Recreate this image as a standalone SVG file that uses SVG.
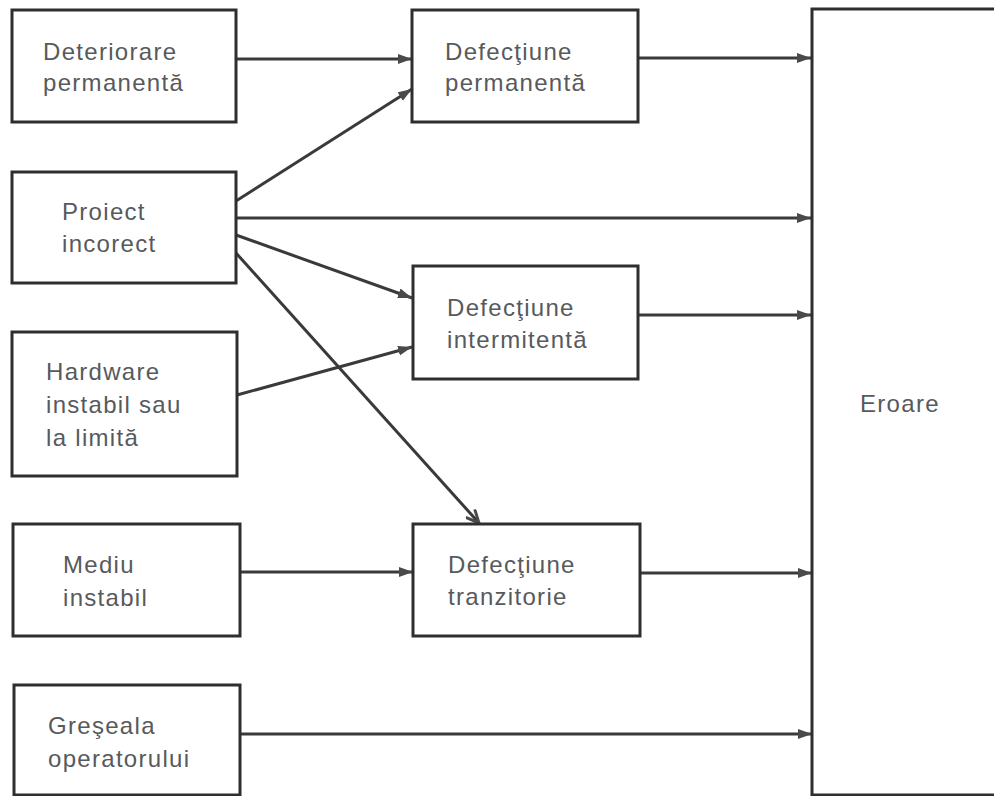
<svg xmlns="http://www.w3.org/2000/svg" width="994" height="796" viewBox="0 0 994 796">
<style>
.box{fill:#fff;stroke:#2e2e2e;stroke-width:3}
.lbl{font-family:"Liberation Sans",Arial,sans-serif;font-size:24px;letter-spacing:1.3px;fill:#575a5c}
.c{fill:none;stroke:#3a3a3a;stroke-width:3}
</style>
<defs>
<marker id="ah" markerUnits="userSpaceOnUse" markerWidth="15" markerHeight="11" refX="14" refY="5.5" orient="auto">
<path d="M0,0.5 L14,5.5 L0,10.5 Z" fill="#4a4a4a"/>
</marker>
<marker id="av" markerUnits="userSpaceOnUse" markerWidth="16" markerHeight="14" refX="14" refY="7" orient="auto">
<path d="M1,1 L14,7 L1,13" fill="none" stroke="#4a4a4a" stroke-width="3"/>
</marker>
</defs>
<rect width="994" height="796" fill="#fff"/>
<g id="connectors">
<line class="c" x1="236" y1="59" x2="412" y2="59" marker-end="url(#ah)"/>
<line class="c" x1="236" y1="201" x2="412" y2="89" marker-end="url(#ah)"/>
<line class="c" x1="236" y1="218" x2="811" y2="218" marker-end="url(#ah)"/>
<line class="c" x1="236" y1="235" x2="412" y2="298" marker-end="url(#ah)"/>
<line class="c" x1="236" y1="253" x2="479" y2="523" marker-end="url(#av)"/>
<line class="c" x1="237" y1="395" x2="412" y2="347" marker-end="url(#ah)"/>
<line class="c" x1="638" y1="58" x2="811" y2="58" marker-end="url(#ah)"/>
<line class="c" x1="638" y1="315" x2="811" y2="315" marker-end="url(#ah)"/>
<line class="c" x1="240" y1="572" x2="413" y2="572" marker-end="url(#ah)"/>
<line class="c" x1="640" y1="573" x2="812" y2="573" marker-end="url(#ah)"/>
<line class="c" x1="240" y1="734" x2="812" y2="734" marker-end="url(#ah)"/>
</g>
<g id="n-deteriorare">
<rect class="box" x="12" y="10" width="224" height="112"/>
<text class="lbl" x="43" y="60">Deteriorare</text>
<text class="lbl" x="43" y="91">permanentă</text>
</g>
<g id="n-proiect">
<rect class="box" x="12" y="172" width="224" height="111"/>
<text class="lbl" x="62" y="220">Proiect</text>
<text class="lbl" x="62" y="252">incorect</text>
</g>
<g id="n-hardware">
<rect class="box" x="12" y="332" width="225" height="144"/>
<text class="lbl" x="46" y="380">Hardware</text>
<text class="lbl" x="46" y="413">instabil sau</text>
<text class="lbl" x="46" y="446">la limită</text>
</g>
<g id="n-mediu">
<rect class="box" x="13" y="524" width="227" height="112"/>
<text class="lbl" x="63" y="573">Mediu</text>
<text class="lbl" x="63" y="606">instabil</text>
</g>
<g id="n-greseala">
<rect class="box" x="14" y="685" width="226" height="110"/>
<text class="lbl" x="48" y="734">Greşeala</text>
<text class="lbl" x="48" y="767">operatorului</text>
</g>
<g id="n-def-perm">
<rect class="box" x="412" y="10" width="226" height="112"/>
<text class="lbl" x="445" y="60">Defecţiune</text>
<text class="lbl" x="445" y="91">permanentă</text>
</g>
<g id="n-def-int">
<rect class="box" x="413" y="266" width="225" height="113"/>
<text class="lbl" x="447" y="316">Defecţiune</text>
<text class="lbl" x="447" y="348">intermitentă</text>
</g>
<g id="n-def-tran">
<rect class="box" x="413" y="524" width="227" height="112"/>
<text class="lbl" x="448" y="573">Defecţiune</text>
<text class="lbl" x="448" y="605">tranzitorie</text>
</g>
<g id="n-eroare">
<rect class="box" x="812" y="9" width="200" height="786"/>
<text class="lbl" x="860" y="412">Eroare</text>
</g>
</svg>
